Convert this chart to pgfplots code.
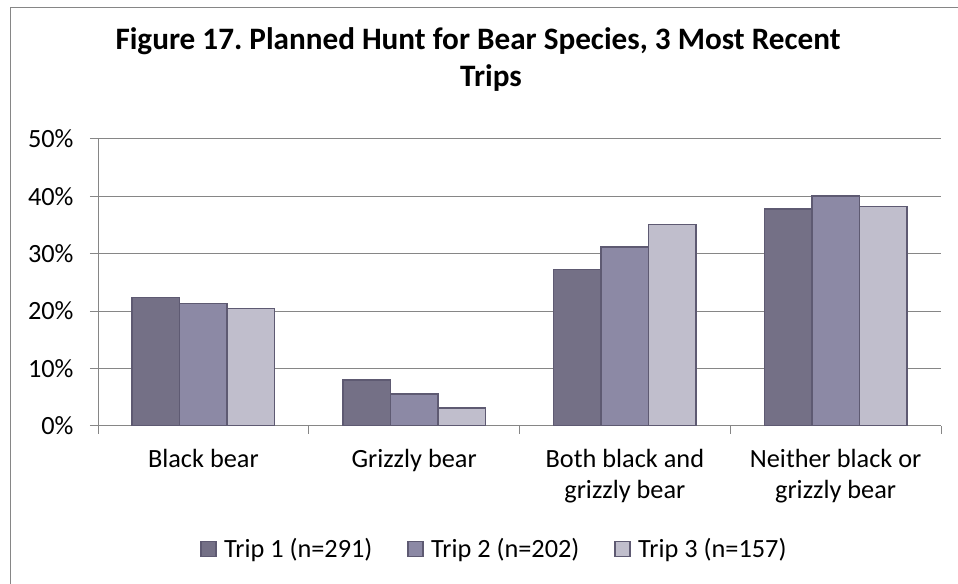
\documentclass[border=0pt]{standalone}
\usepackage{fontspec}
\setmainfont{Carlito}
\usepackage{pgfplots}
\pgfplotsset{compat=1.18}
\frenchspacing

\definecolor{tripA}{HTML}{747086}
\definecolor{tripB}{HTML}{8C89A5}
\definecolor{tripC}{HTML}{C0BECC}
\definecolor{barEdge}{HTML}{5E5A72}
\definecolor{gridGray}{HTML}{868686}

\begin{document}
\begin{tikzpicture}
\path[use as bounding box] (0,0) rectangle (958bp,584bp);
\draw[gridGray, line width=1bp] (10bp,0) -- (10bp,576.5bp) -- (958bp,576.5bp);

% title, two lines
\node[anchor=base, font=\fontsize{31.3}{37}\bfseries\selectfont, inner sep=0] at (478bp,534bp)
  {Figure 17. Planned Hunt for Bear Species, 3 Most Recent};
\node[anchor=base, font=\fontsize{31.3}{37}\bfseries\selectfont, inner sep=0] at (491bp,497bp) {Trips};

\begin{axis}[
    at={(98bp,158.3bp)}, anchor=south west,
    scale only axis,
    width=843bp, height=286.7bp,
    xmin=0, xmax=4,
    ymin=0, ymax=50,
    ybar=0pt,
    bar width=47.5bp,
    axis lines*=left,
    axis line style={gridGray, line width=1bp},
    ytick={0,10,20,30,40,50},
    yticklabels={0\%,10\%,20\%,30\%,40\%,50\%},
    ymajorgrids,
    grid style={gridGray, line width=1bp},
    xtick={0.5,1.5,2.5,3.5},
    xticklabels={Black bear, Grizzly bear, {Both black and\\grizzly bear}, {Neither black or\\grizzly bear}},
    minor xtick={0,1,2,3,4},
    major x tick style={draw=none},
    tick align=outside,
    major tick length=8bp,
    minor tick length=8bp,
    tick style={gridGray, line width=1bp},
    tick label style={font=\fontsize{26.4}{31}\selectfont},
    yticklabel style={xshift=-13bp},
    xticklabel style={align=center, yshift=-12bp},
    legend columns=3,
    legend style={
        at={(0.4703,-0.430)}, anchor=center,
        draw=none, fill=none,
        font=\fontsize{26.4}{31}\selectfont,
        /tikz/every even column/.append style={column sep=33bp},
    },
    legend image code/.code={
        \draw[#1] (0bp,-7.5bp) rectangle (15bp,7.5bp);
        \path[draw=none, fill=none] (0bp,0bp) -- (21bp,0bp);
    },
]
\addplot[fill=tripA, draw=barEdge, line width=1.5bp] coordinates {(0.5,22.4) (1.5,8.0) (2.5,27.2) (3.5,37.8)};
\addplot[fill=tripB, draw=barEdge, line width=1.5bp] coordinates {(0.5,21.3) (1.5,5.5) (2.5,31.2) (3.5,40.1)};
\addplot[fill=tripC, draw=barEdge, line width=1.5bp] coordinates {(0.5,20.4) (1.5,3.1) (2.5,35.1) (3.5,38.2)};
\legend{Trip 1 (n=291), Trip 2 (n=202), Trip 3 (n=157)}
\end{axis}
\end{tikzpicture}
\end{document}
